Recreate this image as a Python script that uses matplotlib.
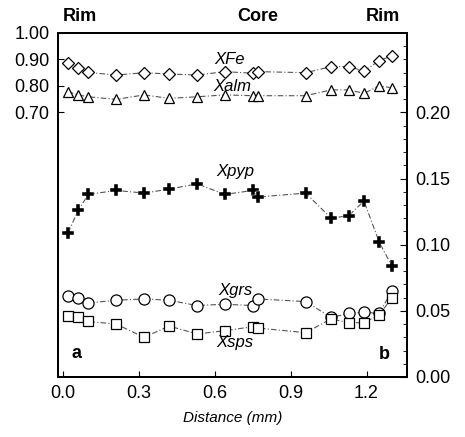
import matplotlib.pyplot as plt
from matplotlib.ticker import MultipleLocator

plt.rcParams["font.family"] = ["Liberation Sans", "DejaVu Sans"]

# distance along the traverse (mm)
distance = [0.02, 0.06, 0.10, 0.21, 0.32, 0.42, 0.53, 0.64, 0.75, 0.77,
            0.96, 1.06, 1.13, 1.19, 1.25, 1.30]

# left axis
x_fe = [0.885, 0.867, 0.851, 0.841, 0.850, 0.845, 0.841, 0.854, 0.848, 0.854,
        0.850, 0.873, 0.873, 0.856, 0.895, 0.914]
x_alm = [0.778, 0.766, 0.759, 0.749, 0.766, 0.753, 0.759, 0.766, 0.763, 0.763,
         0.763, 0.785, 0.785, 0.772, 0.800, 0.793]

# right axis
x_pyp = [0.109, 0.126, 0.138, 0.141, 0.139, 0.142, 0.146, 0.138, 0.141, 0.136,
         0.139, 0.120, 0.122, 0.133, 0.102, 0.084]
x_grs = [0.061, 0.060, 0.056, 0.058, 0.059, 0.058, 0.054, 0.055, 0.054, 0.059,
         0.057, 0.045, 0.048, 0.049, 0.048, 0.065]
x_sps = [0.046, 0.045, 0.042, 0.040, 0.030, 0.0385, 0.0325, 0.035, 0.038, 0.037,
         0.0335, 0.044, 0.041, 0.041, 0.047, 0.0595]

LINE = dict(color="#555555", linewidth=0.8, linestyle=(0, (5, 2, 1, 2)))
OPEN = dict(markerfacecolor="white", markeredgecolor="black", markeredgewidth=0.9)

fig = plt.figure(figsize=(4.65, 4.37), dpi=100)
ax = fig.add_axes([0.1247, 0.1373, 0.7505, 0.7872])
ax2 = ax.twinx()

ax.plot(distance, x_fe, marker="D", markersize=6, **LINE, **OPEN, zorder=3)
ax.plot(distance, x_alm, marker="^", markersize=7, **LINE, **OPEN, zorder=3)

ax2.plot(distance, x_pyp, marker="P", markersize=9, markerfacecolor="black",
         markeredgecolor="white", markeredgewidth=0.3, **LINE, zorder=3)
ax2.plot(distance, x_grs, marker="o", markersize=8, **LINE, **OPEN, zorder=3)
ax2.plot(distance, x_sps, marker="s", markersize=7.5, **LINE, **OPEN, zorder=3)

ax.set_xlim(-0.02, 1.36)
ax.set_ylim(-0.3, 1.0)
ax2.set_ylim(0, 0.26)

ax.set_xticks([0.0, 0.3, 0.6, 0.9, 1.2])
ax.set_xticklabels(["0.0", "0.3", "0.6", "0.9", "1.2"])
ax.set_yticks([0.70, 0.80, 0.90, 1.00])
ax.set_yticklabels(["0.70", "0.80", "0.90", "1.00"])
ax2.set_yticks([0.00, 0.05, 0.10, 0.15, 0.20])
ax2.set_yticklabels(["0.00", "0.05", "0.10", "0.15", "0.20"])
ax2.yaxis.set_minor_locator(MultipleLocator(0.01))

ax.tick_params(axis="both", direction="in", length=4, labelsize=13, pad=6)
ax2.tick_params(axis="y", which="major", direction="in", length=5, labelsize=13, pad=6)
ax2.tick_params(axis="y", which="minor", direction="in", length=3)

for a in (ax, ax2):
    for sp in a.spines.values():
        sp.set_linewidth(1.4)

ax.set_xlabel("Distance (mm)", fontsize=11, style="italic", labelpad=6)

# series labels
ax.text(0.66, 0.898, "XFe", style="italic", fontsize=12, ha="center", va="center")
ax.text(0.67, 0.796, "Xalm", style="italic", fontsize=12, ha="center", va="center")
ax2.text(0.68, 0.155, "Xpyp", style="italic", fontsize=12, ha="center", va="center")
ax2.text(0.68, 0.065, "Xgrs", style="italic", fontsize=12, ha="center", va="center")
ax2.text(0.68, 0.026, "Xsps", style="italic", fontsize=12, ha="center", va="center")
ax2.text(0.055, 0.018, "a", fontweight="bold", fontsize=13, ha="center", va="center")
ax2.text(1.27, 0.017, "b", fontweight="bold", fontsize=13, ha="center", va="center")

# traverse position labels
for xf, s in [(0.063, "Rim"), (0.573, "Core"), (0.93, "Rim")]:
    ax.text(xf, 1.047, s, transform=ax.transAxes, fontsize=13, fontweight="bold",
            ha="center", va="center")

fig.savefig("out.png", dpi=100)
